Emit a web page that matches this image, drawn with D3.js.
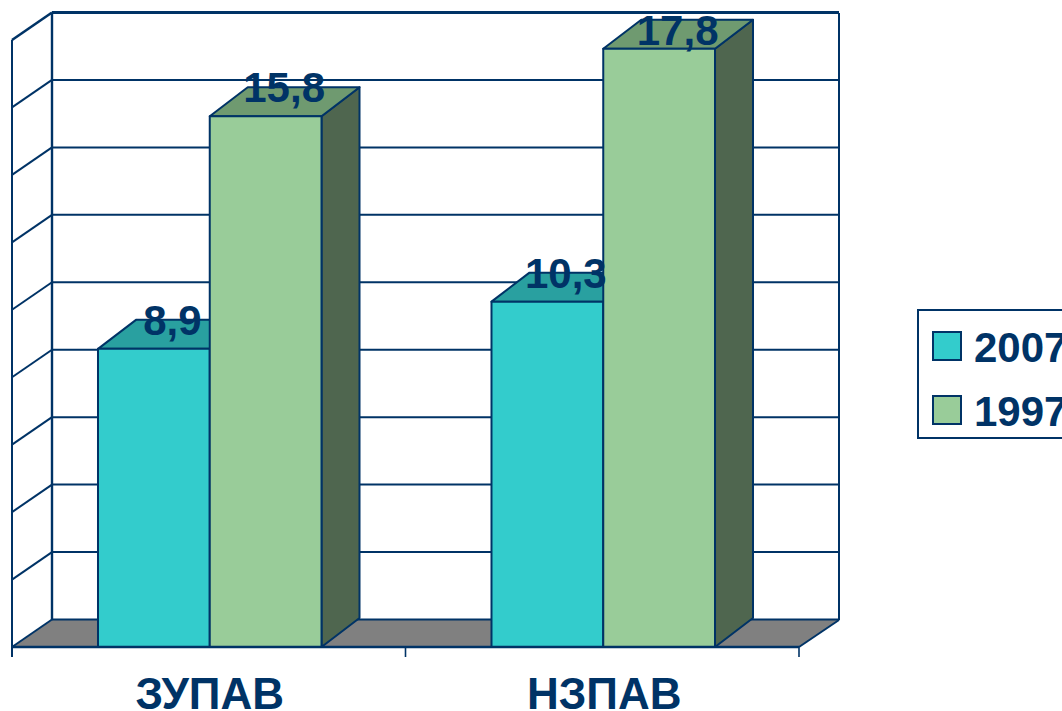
<!DOCTYPE html>
<html><head><meta charset="utf-8">
<script src="https://cdnjs.cloudflare.com/ajax/libs/d3/7.8.5/d3.min.js"></script>
<style>html,body{margin:0;padding:0;background:#fff;overflow:hidden}svg{display:block}text{font-family:"Liberation Sans",Arial,sans-serif;font-weight:bold;fill:#003366}</style>
</head><body><svg id="c" width="1062" height="711"></svg>
<script>
const categories = ["ЗУПАВ", "НЗПАВ"];
const seriesNames = ["2007", "1997"];
const values2007 = [8.9, 10.3];
const values1997 = [15.8, 17.8];
const labels2007 = ["8,9", "10,3"];
const labels1997 = ["15,8", "17,8"];
const gridTicks = [0, 2, 4, 6, 8, 10, 12, 14, 16, 18];

const ink = "#003366";
const faces = {
  "2007": {front: "#33CCCC", top: "#29A0A0", side: "#1F7A7A"},
  "1997": {front: "#99CC99", top: "#6F9A70", side: "#4F664F"}
};
const svg = d3.select("#c");
const L = 12, R = 799, B = 647, T = 40, dxWall = 40, dyWall = 27, dxBar = 38, dyBar = 29, barDrop = 2, barShift = 1;
const y = d3.scaleLinear().domain([0, 18]).range([B, T]);
const x0 = d3.scaleBand().domain(categories).range([L, R]).paddingInner(0.432).paddingOuter(0.216);
const x1 = d3.scaleBand().domain(seriesNames).range([0, x0.bandwidth()]);

// floor
svg.append("path")
  .attr("d", `M${L},${B}L${L+dxWall},${B-dyWall}L${R+dxWall},${B-dyWall}L${R},${B}Z`)
  .attr("fill", "#808080").attr("stroke", "none");

// grid: back wall and side wall
const grid = svg.append("g").attr("stroke", ink).attr("fill", "none").attr("stroke-width", 2);
grid.selectAll(".b").data(gridTicks).join("line")
  .attr("x1", L + dxWall).attr("x2", R + dxWall)
  .attr("y1", d => y(d) - dyWall - 0.5).attr("y2", d => y(d) - dyWall - 0.5)
  .attr("stroke-width", d => d === 18 ? 3 : 2);
grid.selectAll(".s").data(gridTicks).join("line")
  .attr("x1", L).attr("x2", L + dxWall)
  .attr("y1", d => y(d)).attr("y2", d => y(d) - dyWall - 0.5)
  .attr("stroke-width", d => d === 18 ? 2.6 : 2);
grid.append("line").attr("x1", L).attr("x2", L).attr("y1", T).attr("y2", B + 10);
grid.append("line").attr("x1", L + dxWall).attr("x2", L + dxWall).attr("y1", T - dyWall).attr("y2", B - dyWall).attr("stroke-width", 2.4);
grid.append("line").attr("x1", R + dxWall).attr("x2", R + dxWall).attr("y1", T - dyWall).attr("y2", B - dyWall);
grid.append("line").attr("x1", R).attr("x2", R + dxWall).attr("y1", B).attr("y2", B - dyWall);

// bars
const rows = [];
categories.forEach((c, i) => {
  rows.push({cat: c, s: "2007", v: values2007[i], label: labels2007[i]});
  rows.push({cat: c, s: "1997", v: values1997[i], label: labels1997[i]});
});
const barG = svg.append("g").attr("stroke", ink).attr("stroke-width", 2).attr("stroke-linejoin", "round");
rows.forEach(d => {
  const xa = x0(d.cat) + x1(d.s) + barShift, xb = xa + x1.bandwidth(), yt = y(d.v) + barDrop;
  barG.append("path").attr("fill", faces[d.s].side)
    .attr("d", `M${xb},${yt}L${xb+dxBar},${yt-dyBar}L${xb+dxBar},${B-dyBar}L${xb},${B}Z`);
  barG.append("path").attr("fill", faces[d.s].top)
    .attr("d", `M${xa},${yt}L${xa+dxBar},${yt-dyBar}L${xb+dxBar},${yt-dyBar}L${xb},${yt}Z`);
  barG.append("rect").attr("fill", faces[d.s].front)
    .attr("x", xa).attr("y", yt).attr("width", xb - xa).attr("height", B - yt);
});

// baseline and ticks
const axisG = svg.append("g").attr("stroke", ink).attr("stroke-width", 2);
axisG.append("line").attr("x1", L).attr("x2", R).attr("y1", B).attr("y2", B).attr("stroke-width", 2.4);
axisG.selectAll(".t").data([L, (L + R) / 2, R]).join("line")
  .attr("x1", d => d).attr("x2", d => d).attr("y1", B).attr("y2", B + 10).attr("stroke-width", 1.6);

// value labels
svg.selectAll(".v").data(rows).join("text")
  .attr("x", d => x0(d.cat) + x1(d.s) + x1.bandwidth() / 2 + dxBar / 2 + 0.5)
  .attr("y", d => Math.max(y(d.v) + barDrop - 14, 45))
  .attr("text-anchor", "middle").attr("font-size", 42).text(d => d.label);

// category labels
svg.selectAll(".c").data(categories).join("text")
  .attr("x", (d, i) => x0(d) + x0.bandwidth() / 2 + 1 + i)
  .attr("y", 709).attr("text-anchor", "middle").attr("font-size", 44).text(d => d);

// legend
svg.append("rect").attr("x", 918).attr("y", 310).attr("width", 170).attr("height", 128)
  .attr("fill", "#fff").attr("stroke", ink).attr("stroke-width", 2);
const ly = d3.scalePoint().domain(seriesNames).range([347, 411]);
seriesNames.forEach(s => {
  svg.append("rect").attr("x", 933).attr("y", ly(s) - 15).attr("width", 28).attr("height", 28)
    .attr("fill", faces[s].front).attr("stroke", ink).attr("stroke-width", 2);
  svg.append("text").attr("x", 974).attr("y", ly(s) + 15).attr("font-size", 42).text(s);
});
</script></body></html>
